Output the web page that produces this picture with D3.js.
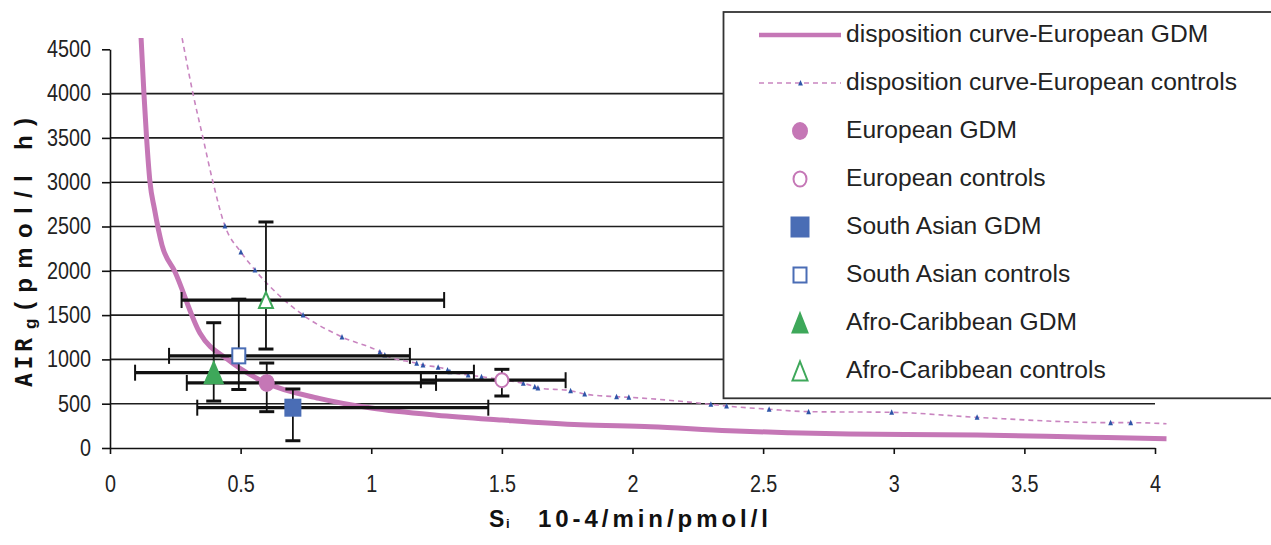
<!DOCTYPE html>
<html><head><meta charset="utf-8">
<script src="https://cdn.jsdelivr.net/npm/d3@7"></script>
<style>body{margin:0;background:#fff} svg{display:block}</style>
</head><body><svg id="c" width="1271" height="545"></svg>
<script>
// ---------- data ----------
const xTicks = [0, 0.5, 1, 1.5, 2, 2.5, 3, 3.5, 4];
const xTickLabels = ["0", "0.5", "1", "1.5", "2", "2.5", "3", "3.5", "4"];
const yTicks = [0, 500, 1000, 1500, 2000, 2500, 3000, 3500, 4000, 4500];
const yGridValues = [500, 1000, 1500, 2000, 2500, 3000, 3500, 4000];

// disposition curve - European GDM
const gdmCurveSi  = [0.119, 0.130, 0.140, 0.153, 0.170, 0.199, 0.249, 0.344, 0.45, 0.594, 0.8, 1.0, 1.25, 1.5, 1.8, 2.07, 2.37, 2.6, 2.83, 3.32, 3.75, 4.044];
const gdmCurveAIR = [4627, 3995, 3500, 3002, 2700, 2291, 1986, 1298, 1000, 739, 560, 451, 370, 316, 262, 240, 194, 173, 158, 147, 121, 105];

// disposition curve - European controls (dashed line)
const ctrlCurveSi  = [0.276, 0.318, 0.356, 0.394, 0.440, 0.501, 0.555, 0.739, 0.888, 1.033, 1.052, 1.174, 1.198, 1.256, 1.292, 1.301, 1.371, 1.422, 1.5, 1.582, 1.626, 1.638, 1.763, 1.817, 1.939, 1.986, 2.300, 2.360, 2.523, 2.674, 2.992, 3.319, 3.830, 3.907, 4.044];
const ctrlCurveAIR = [4627, 3995, 3499, 3002, 2506, 2212, 2009, 1501, 1253, 1084, 1050, 956, 937, 911, 880, 861, 824, 805, 770, 730, 692, 677, 647, 609, 579, 572, 493, 474, 437, 410, 403, 346, 286, 286, 274];
// small blue markers on the dashed curve
const ctrlMarkerSi  = [0.440, 0.501, 0.555, 0.739, 0.888, 1.033, 1.052, 1.174, 1.198, 1.256, 1.292, 1.301, 1.371, 1.422, 1.582, 1.626, 1.638, 1.763, 1.817, 1.939, 1.986, 2.300, 2.360, 2.523, 2.674, 2.992, 3.319, 3.830, 3.907];
const ctrlMarkerAIR = [2506, 2212, 2009, 1501, 1253, 1084, 1050, 956, 937, 911, 880, 861, 824, 805, 730, 692, 677, 647, 609, 579, 572, 493, 474, 437, 410, 403, 346, 286, 286];

// group means with error ranges
const groups   = ["European GDM", "European controls", "South Asian GDM", "South Asian controls", "Afro-Caribbean GDM", "Afro-Caribbean controls"];
const groupSi  = [0.6, 1.5, 0.7, 0.493, 0.397, 0.597];
const groupAIR = [735, 765, 455, 1040, 850, 1670];
const siLow    = [0.294, 1.19, 0.334, 0.226, 0.096, 0.274];
const siHigh   = [1.248, 1.744, 1.448, 1.148, 1.393, 1.279];
const airLow   = [410, 587, 82, 660, 530, 1117];
const airHigh  = [959, 888, 666, 1680, 1414, 2551];

const curveLabels = ["disposition curve-European GDM", "disposition curve-European controls"];

// ---------- styles ----------
const PINK = "#c577b6", PINK_L = "#c985c0", BLUE = "#4a6db5", GREEN = "#3ea85a", MBLUE = "#2e55a8";
const markerStyle = [
  {shape: "circle",   fill: PINK,   stroke: PINK,  w: 16, h: 18},
  {shape: "circle",   fill: "#fff", stroke: PINK,  w: 15, h: 16},
  {shape: "square",   fill: BLUE,   stroke: BLUE,  w: 17, h: 18},
  {shape: "square",   fill: "#fff", stroke: BLUE,  w: 15, h: 17},
  {shape: "triangle", fill: GREEN,  stroke: GREEN, w: 20, h: 23},
  {shape: "triangle", fill: "#fff", stroke: GREEN, w: 16, h: 18}
];

const svg = d3.select("#c");
const x = d3.scaleLinear().domain([0, 4]).range([110, 1155]);
const y = d3.scaleLinear().domain([0, 4500]).range([448, 49.3]);

// gridlines
svg.append("g").selectAll("line").data(yGridValues).join("line")
  .attr("x1", x(0)).attr("x2", x(4))
  .attr("y1", d => y(d)).attr("y2", d => y(d))
  .attr("stroke", "#1e1e1e").attr("stroke-width", 1.6);

// axes
const FONT = "'Liberation Sans', Arial, sans-serif";
const yAxis = svg.append("g").attr("transform", `translate(${x(0)},0)`)
  .call(d3.axisLeft(y).tickValues(yTicks).tickSize(8).tickSizeOuter(0).tickFormat(d3.format("d")));
const xAxis = svg.append("g").attr("transform", `translate(0,${y(0)})`)
  .call(d3.axisBottom(x).tickValues(xTicks).tickSize(6).tickSizeOuter(0).tickFormat((d, i) => xTickLabels[i]));
[yAxis, xAxis].forEach(a => {
  a.select(".domain").attr("stroke", "#111").attr("stroke-width", 1.6);
  a.selectAll(".tick line").attr("stroke", "#111").attr("stroke-width", 1.6);
  a.selectAll("text").attr("font-family", FONT).attr("font-size", 23).attr("fill", "#222");
});
yAxis.selectAll("text").attr("x", -19 / 0.86).attr("transform", "scale(0.86,1)");
xAxis.selectAll("text").attr("y", 44).attr("dy", 0).attr("transform", "scale(0.86,1)");

// curves
const line = d3.line().x(d => x(d[0])).y(d => y(d[1])).curve(d3.curveMonotoneX);
svg.append("path").datum(d3.zip(ctrlCurveSi, ctrlCurveAIR))
  .attr("d", line).attr("fill", "none").attr("stroke", PINK_L)
  .attr("stroke-width", 1.6).attr("stroke-dasharray", "5,4");
svg.append("path").datum(d3.zip(gdmCurveSi, gdmCurveAIR))
  .attr("d", line).attr("fill", "none").attr("stroke", PINK)
  .attr("stroke-width", 5).attr("stroke-linejoin", "round");

function smallTri(sel) {
  sel.attr("d", "M0,-3L2.4,2.5L-2.4,2.5Z").attr("fill", MBLUE);
}
svg.append("g").selectAll("path").data(d3.zip(ctrlMarkerSi, ctrlMarkerAIR)).join("path")
  .attr("transform", d => `translate(${x(d[0])},${y(d[1])})`).call(smallTri);

// error bars
const eb = svg.append("g");
groups.forEach((g, i) => {
  const cx = x(groupSi[i]), cy = y(groupAIR[i]);
  eb.append("line").attr("x1", x(siLow[i])).attr("x2", x(siHigh[i])).attr("y1", cy).attr("y2", cy)
    .attr("stroke", "#111").attr("stroke-width", 3.2);
  [siLow[i], siHigh[i]].forEach(v => eb.append("line")
    .attr("x1", x(v)).attr("x2", x(v)).attr("y1", cy - 8).attr("y2", cy + 8)
    .attr("stroke", "#111").attr("stroke-width", 2));
  eb.append("line").attr("x1", cx).attr("x2", cx).attr("y1", y(airLow[i])).attr("y2", y(airHigh[i]))
    .attr("stroke", "#111").attr("stroke-width", 1.8);
  [airLow[i], airHigh[i]].forEach(v => eb.append("line")
    .attr("x1", cx - 7.5).attr("x2", cx + 7.5).attr("y1", y(v)).attr("y2", y(v))
    .attr("stroke", "#111").attr("stroke-width", 3));
});

function drawMarker(sel, st, cx, cy) {
  const sw = 2;
  if (st.shape === "circle") {
    sel.append("ellipse").attr("cx", cx).attr("cy", cy).attr("rx", st.w / 2 - 1).attr("ry", st.h / 2 - 1)
      .attr("fill", st.fill).attr("stroke", st.stroke).attr("stroke-width", sw);
  } else if (st.shape === "square") {
    sel.append("rect").attr("x", cx - st.w / 2 + 1).attr("y", cy - st.h / 2 + 1)
      .attr("width", st.w - 2).attr("height", st.h - 2)
      .attr("fill", st.fill).attr("stroke", st.stroke).attr("stroke-width", sw);
  } else {
    const hw = st.w / 2 - 1, hh = st.h / 2 - 1;
    sel.append("path").attr("d", `M${cx},${cy - hh}L${cx + hw},${cy + hh}L${cx - hw},${cy + hh}Z`)
      .attr("fill", st.fill).attr("stroke", st.stroke).attr("stroke-width", sw).attr("stroke-linejoin", "miter");
  }
}
const mk = svg.append("g");
groups.forEach((g, i) => drawMarker(mk, markerStyle[i], x(groupSi[i]), y(groupAIR[i])));

// legend
const lg = svg.append("g");
lg.append("rect").attr("x", 723.5).attr("y", 12).attr("width", 600).attr("height", 386.3)
  .attr("fill", "#fff").attr("stroke", "#333").attr("stroke-width", 1.8);
const labels = curveLabels.concat(groups);
labels.forEach((t, i) => {
  const cy = 35 + 48 * i;
  lg.append("text").attr("x", 846).attr("y", cy + 6.8).text(t)
    .attr("font-family", FONT).attr("font-size", 24.6).attr("fill", "#222");
  if (i === 0) {
    lg.append("line").attr("x1", 759).attr("x2", 841).attr("y1", cy).attr("y2", cy)
      .attr("stroke", PINK).attr("stroke-width", 4.5);
  } else if (i === 1) {
    lg.append("line").attr("x1", 759).attr("x2", 841).attr("y1", cy).attr("y2", cy)
      .attr("stroke", PINK_L).attr("stroke-width", 1.6).attr("stroke-dasharray", "5,4");
    lg.append("path").attr("transform", `translate(800.5,${cy})`).call(smallTri);
  } else {
    const st = Object.assign({}, markerStyle[i - 2]);
    if (st.shape === "triangle") { st.w = 17; st.h = 21; }
    if (st.shape === "square" && st.fill !== "#fff") { st.w = 19; st.h = 21; }
    if (st.shape === "circle" && st.fill === "#fff") { st.w = 15; st.h = 17; }
    drawMarker(lg, st, 800, cy);
  }
});

// axis titles
const yt = svg.append("g").attr("transform", "translate(32,387) rotate(-90)");
yt.append("text").attr("x", 0).attr("y", 0).text("AIR")
  .attr("font-family", "'DejaVu Sans Mono', monospace").attr("font-weight", "bold")
  .attr("font-size", 23).attr("textLength", 49).attr("lengthAdjust", "spacing").attr("fill", "#111");
yt.append("text").attr("x", 58).attr("y", 4).text("g")
  .attr("font-family", FONT).attr("font-weight", "bold").attr("font-size", 17).attr("fill", "#111");
yt.append("text").attr("x", 77).attr("y", 0).text("(pmol/l h)")
  .attr("font-family", FONT).attr("font-weight", "bold").attr("font-size", 24)
  .attr("textLength", 192).attr("lengthAdjust", "spacing").attr("fill", "#111");

svg.append("text").attr("x", 489).attr("y", 527).text("S")
  .attr("font-family", FONT).attr("font-weight", "bold").attr("font-size", 23).attr("fill", "#111");
svg.append("text").attr("x", 506).attr("y", 528).text("i")
  .attr("font-family", FONT).attr("font-weight", "bold").attr("font-size", 13).attr("fill", "#111");
svg.append("text").attr("x", 538).attr("y", 527).text("10-4/min/pmol/l")
  .attr("font-family", FONT).attr("font-weight", "bold").attr("font-size", 24)
  .attr("textLength", 230).attr("lengthAdjust", "spacing").attr("fill", "#111");
</script>
</body></html>
